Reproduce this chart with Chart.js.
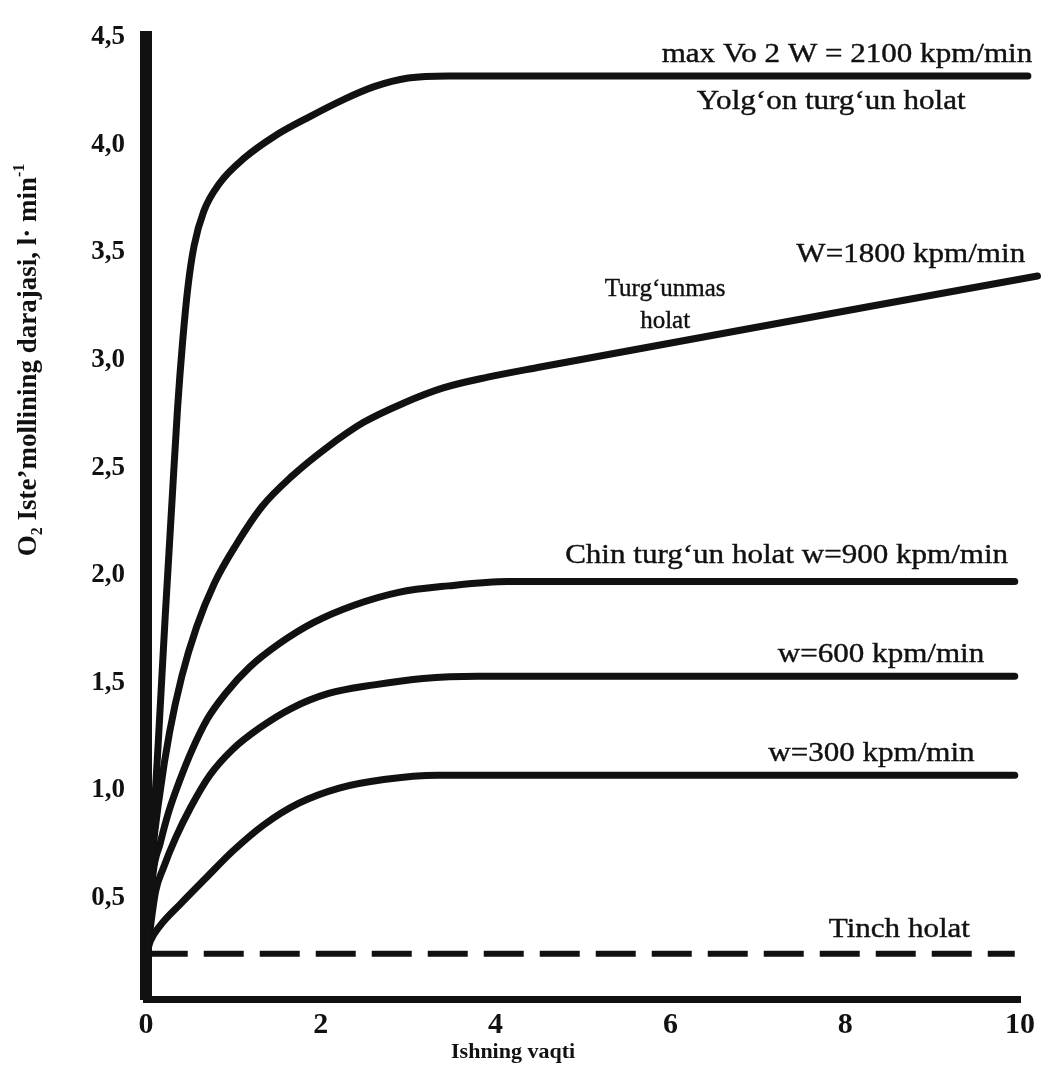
<!DOCTYPE html>
<html lang="uz">
<head>
<meta charset="utf-8">
<title>O2 iste'moli va ish vaqti</title>
<script src="https://cdn.jsdelivr.net/npm/chart.js@4/dist/chart.umd.min.js"></script>
<style>
  html, body { margin: 0; padding: 0; background: #fff; }
  canvas { display: block; }
</style>
</head>
<body>
<canvas id="vo2Chart" width="1043" height="1067"></canvas>
<script>
// ---------- ma'lumotlar: ish vaqti (min) va O2 iste'moli (l/min) ----------
const maxTime = [0.02, 0.05, 0.14, 0.22, 0.30, 0.36, 0.42, 0.48, 0.55, 0.66, 0.84, 1.13, 1.47, 1.87, 2.26, 2.61, 3.00, 3.46, 10.09];
const maxVo2  = [0.27, 0.58, 1.22, 1.81, 2.36, 2.77, 3.09, 3.34, 3.53, 3.69, 3.82, 3.94, 4.04, 4.13, 4.21, 4.27, 4.31, 4.32, 4.32];

const w1800Time = [0.02, 0.07, 0.16, 0.27, 0.41, 0.58, 0.78, 1.03, 1.33, 1.67, 2.06, 2.49, 2.95, 3.40, 3.91, 4.48, 10.2];
const w1800Vo2  = [0.27, 0.67, 0.99, 1.27, 1.53, 1.76, 1.96, 2.14, 2.32, 2.46, 2.59, 2.71, 2.80, 2.87, 2.92, 2.965, 3.39];

const w900Time = [0.02, 0.08, 0.16, 0.26, 0.39, 0.53, 0.70, 0.91, 1.18, 1.52, 1.92, 2.38, 2.89, 3.46, 4.14, 9.94];
const w900Vo2  = [0.27, 0.61, 0.75, 0.90, 1.05, 1.19, 1.33, 1.45, 1.57, 1.68, 1.78, 1.86, 1.92, 1.95, 1.97, 1.97];

const w600Time = [0.02, 0.11, 0.20, 0.34, 0.51, 0.73, 0.99, 1.30, 1.66, 2.09, 2.61, 3.17, 3.80, 9.94];
const w600Vo2  = [0.27, 0.53, 0.64, 0.78, 0.92, 1.07, 1.19, 1.29, 1.38, 1.45, 1.49, 1.52, 1.53, 1.53];

const w300Time = [0.02, 0.05, 0.16, 0.39, 0.68, 1.00, 1.35, 1.75, 2.21, 2.72, 3.34, 9.94];
const w300Vo2  = [0.26, 0.30, 0.37, 0.47, 0.59, 0.72, 0.84, 0.94, 1.01, 1.05, 1.07, 1.07];

const restTime = [0.02, 9.94];
const restVo2  = [0.24, 0.24];

const xTicks = [0, 2, 4, 6, 8, 10];
const xTickLabels = ['0', '2', '4', '6', '8', '10'];
const yTicks = [0.5, 1.0, 1.5, 2.0, 2.5, 3.0, 3.5, 4.0, 4.5];
const yTickLabels = ['0,5', '1,0', '1,5', '2,0', '2,5', '3,0', '3,5', '4,0', '4,5'];

// egri chiziqlar yonidagi yozuvlar (o'q qiymatlarida)
const curveLabels = [
  { text: 'max Vo 2 W = 2100 kpm/min', x: 10.14, y: 4.42, align: 'right' },
  { text: 'Yolg‘on turg‘un holat', x: 7.84, y: 4.20 },
  { text: 'W=1800 kpm/min', x: 8.75, y: 3.49 },
  { text: 'Turg‘unmas', x: 5.94, y: 3.33, size: 25, stretch: 1.0 },
  { text: 'holat', x: 5.94, y: 3.18, size: 25, stretch: 1.0 },
  { text: 'Chin turg‘un holat w=900 kpm/min', x: 7.33, y: 2.09 },
  { text: 'w=600 kpm/min', x: 8.41, y: 1.63 },
  { text: 'w=300 kpm/min', x: 8.30, y: 1.17 },
  { text: 'Tinch holat', x: 8.62, y: 0.35 }
];

const SERIF = '"Liberation Serif", "Times New Roman", serif';
const INK = '#111';

function toPoints(xs, ys) { return xs.map((t, i) => ({ x: t, y: ys[i] })); }

function curve(xs, ys, extra = {}) {
  return Object.assign({
    data: toPoints(xs, ys),
    borderColor: INK,
    borderWidth: 7,
    pointRadius: 0,
    cubicInterpolationMode: 'monotone',
    borderCapStyle: 'round',
    borderJoinStyle: 'round',
    clip: false,
    fill: false
  }, extra);
}

// rotated text made of pieces (subscript / superscript)
function drawRich(ctx, parts, cx, cy, angle) {
  ctx.save();
  ctx.translate(cx, cy);
  ctx.rotate(angle);
  ctx.textBaseline = 'alphabetic';
  ctx.textAlign = 'left';
  let total = 0;
  parts.forEach(p => { ctx.font = p.font; p.w = ctx.measureText(p.t).width; total += p.w; });
  let pos = -total / 2;
  parts.forEach(p => {
    ctx.font = p.font;
    ctx.fillText(p.t, pos, 9 + (p.dy || 0));
    pos += p.w;
  });
  ctx.restore();
}

const textPlugin = {
  id: 'textLayer',
  afterDatasetsDraw(chart) {
    const { ctx, scales: { x, y } } = chart;
    ctx.save();
    ctx.fillStyle = INK;
    ctx.strokeStyle = INK;
    ctx.lineWidth = 0.4;
    ctx.textBaseline = 'middle';
    curveLabels.forEach(l => {
      ctx.save();
      ctx.font = (l.size || 27) + 'px ' + SERIF;
      ctx.textAlign = l.align || 'center';
      ctx.translate(x.getPixelForValue(l.x), y.getPixelForValue(l.y));
      ctx.scale(l.stretch || 1.15, 1);
      ctx.fillText(l.text, 0, 0);
      ctx.strokeText(l.text, 0, 0);
      ctx.restore();
    });

    // o'q nomlari
    ctx.font = 'bold 22px ' + SERIF;
    ctx.textAlign = 'center';
    ctx.fillText('Ishning vaqti', x.getPixelForValue(4.2), chart.chartArea.bottom + 53);

    const bold = 'bold 27px ' + SERIF;
    const small = 'bold 16px ' + SERIF;
    drawRich(ctx, [
      { t: 'O', font: bold },
      { t: '2', font: small, dy: 6 },
      { t: ' Iste’mollining darajasi, l· min', font: bold },
      { t: '-1', font: small, dy: -12 }
    ], 27, 360, -Math.PI / 2);
    ctx.restore();
  }
};

new Chart(document.getElementById('vo2Chart'), {
  type: 'line',
  data: {
    datasets: [
      curve(maxTime, maxVo2),
      curve(w1800Time, w1800Vo2),
      curve(w900Time, w900Vo2),
      curve(w600Time, w600Vo2),
      curve(w300Time, w300Vo2),
      curve(restTime, restVo2, { borderWidth: 6, borderDash: [40, 16], borderCapStyle: 'butt' })
    ]
  },
  options: {
    responsive: false,
    animation: false,
    layout: { padding: { top: 22, right: 18, bottom: 0, left: 0 } },
    plugins: { legend: { display: false }, tooltip: { enabled: false } },
    events: [],
    scales: {
      x: {
        type: 'linear',
        min: 0,
        max: 10,
        grid: { display: false, drawTicks: false },
        border: { display: true, color: INK, width: 7 },
        afterBuildTicks: s => { s.ticks = xTicks.map(v => ({ value: v })); },
        afterFit: s => { s.height = 68; },
        ticks: {
          padding: 8,
          color: INK,
          font: { family: SERIF, size: 30, weight: 'bold' },
          callback: v => xTickLabels[xTicks.indexOf(v)]
        }
      },
      y: {
        type: 'linear',
        min: 0.03,
        max: 4.5,
        grid: { display: false, drawTicks: false },
        border: { display: true, color: INK, width: 12 },
        afterBuildTicks: s => { s.ticks = yTicks.map(v => ({ value: v })); },
        afterFit: s => { s.width = 146; },
        ticks: {
          padding: 21,
          color: INK,
          font: { family: SERIF, size: 27, weight: 'bold' },
          callback: v => yTickLabels[yTicks.indexOf(v)]
        }
      }
    }
  },
  plugins: [textPlugin]
});
</script>
</body>
</html>
